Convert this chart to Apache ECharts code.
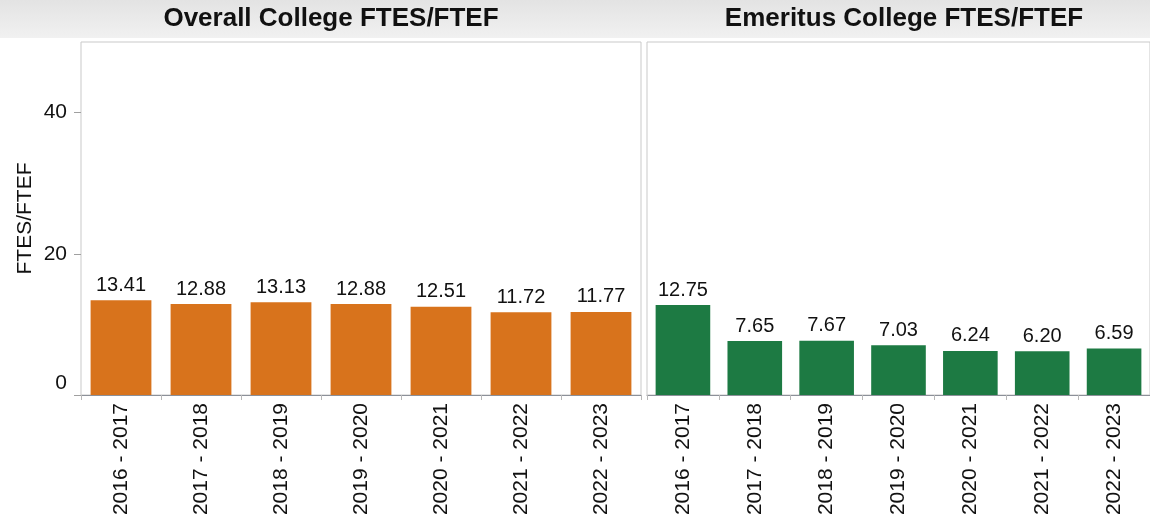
<!DOCTYPE html>
<html>
<head>
<meta charset="utf-8">
<script src="https://cdn.jsdelivr.net/npm/echarts@6/dist/echarts.min.js"></script>
<style>
  html, body { margin: 0; padding: 0; background: #fff; }
  #chart { width: 1150px; height: 525px; }
</style>
</head>
<body>
<div id="chart"></div>
<script>
// data
var years = ['2016 - 2017', '2017 - 2018', '2018 - 2019', '2019 - 2020', '2020 - 2021', '2021 - 2022', '2022 - 2023'];
var overallValues = [13.41, 12.88, 13.13, 12.88, 12.51, 11.72, 11.77];
var emeritusValues = [12.75, 7.65, 7.67, 7.03, 6.24, 6.20, 6.59];
var panelTitles = ['Overall College FTES/FTEF', 'Emeritus College FTES/FTEF'];
var yName = 'FTES/FTEF';

var FONT = '"Liberation Sans", Arial, sans-serif';
var chart = echarts.init(document.getElementById('chart'));

function xAxisFor(idx) {
  return {
    type: 'category',
    gridIndex: idx,
    data: years,
    axisLine: { lineStyle: { color: '#8c9099', width: 1 } },
    axisTick: { show: true, length: 5, lineStyle: { color: '#b8b8b8' } },
    axisLabel: { rotate: 90, fontSize: 21, color: '#111', margin: 8, fontFamily: FONT }
  };
}

function barSeries(idx, values, color) {
  return {
    type: 'bar',
    xAxisIndex: idx,
    yAxisIndex: idx,
    data: values,
    barCategoryGap: '24%',
    itemStyle: { color: color },
    label: {
      show: true,
      position: 'top',
      distance: 5,
      fontSize: 20,
      color: '#111',
      fontFamily: FONT,
      formatter: function (p) { return p.value.toFixed(2); }
    },
    silent: true
  };
}

var option = {
  backgroundColor: '#fff',
  animation: false,
  graphic: [
    {
      type: 'rect',
      shape: { x: 0, y: 0, width: 1150, height: 38 },
      style: {
        fill: new echarts.graphic.LinearGradient(0, 0, 0, 1, [
          { offset: 0, color: '#e3e3e3' },
          { offset: 1, color: '#f1f1f1' }
        ])
      },
      z: -1
    },
    {
      type: 'text', x: 331, y: 19,
      style: { text: panelTitles[0], font: 'bold 26px ' + FONT, fill: '#111', align: 'center', verticalAlign: 'middle' }
    },
    {
      type: 'text', x: 904, y: 19,
      style: { text: panelTitles[1], font: 'bold 26px ' + FONT, fill: '#111', align: 'center', verticalAlign: 'middle' }
    }
  ],
  grid: [
    { left: 81, width: 560, top: 42, bottom: 130, show: true, borderColor: '#c9c9c9', borderWidth: 1 },
    { left: 647, width: 506, top: 42, bottom: 130, show: true, borderColor: '#c9c9c9', borderWidth: 1 }
  ],
  xAxis: [xAxisFor(0), xAxisFor(1)],
  yAxis: [
    {
      type: 'value',
      gridIndex: 0,
      min: 0, max: 50, interval: 20,
      name: yName,
      nameLocation: 'middle',
      nameGap: 45,
      nameTextStyle: { fontSize: 21, color: '#111', fontFamily: FONT },
      axisLine: { show: false },
      axisTick: { show: true, length: 7, lineStyle: { color: '#a0a0a0' } },
      splitLine: { show: false },
      axisLabel: {
        fontSize: 21, color: '#111', margin: 14, fontFamily: FONT,
        showMaxLabel: false,
        formatter: function (v) { return v === 0 ? '{z|0}' : String(v); },
        rich: { z: { fontSize: 21, color: '#111', fontFamily: FONT, padding: [0, 0, 24, 0] } }
      }
    },
    {
      type: 'value',
      gridIndex: 1,
      min: 0, max: 50, interval: 20,
      axisLine: { show: false },
      axisTick: { show: false },
      axisLabel: { show: false },
      splitLine: { show: false }
    }
  ],
  series: [
    barSeries(0, overallValues, '#d8731c'),
    barSeries(1, emeritusValues, '#1d7a43')
  ]
};

chart.setOption(option);
</script>
</body>
</html>
